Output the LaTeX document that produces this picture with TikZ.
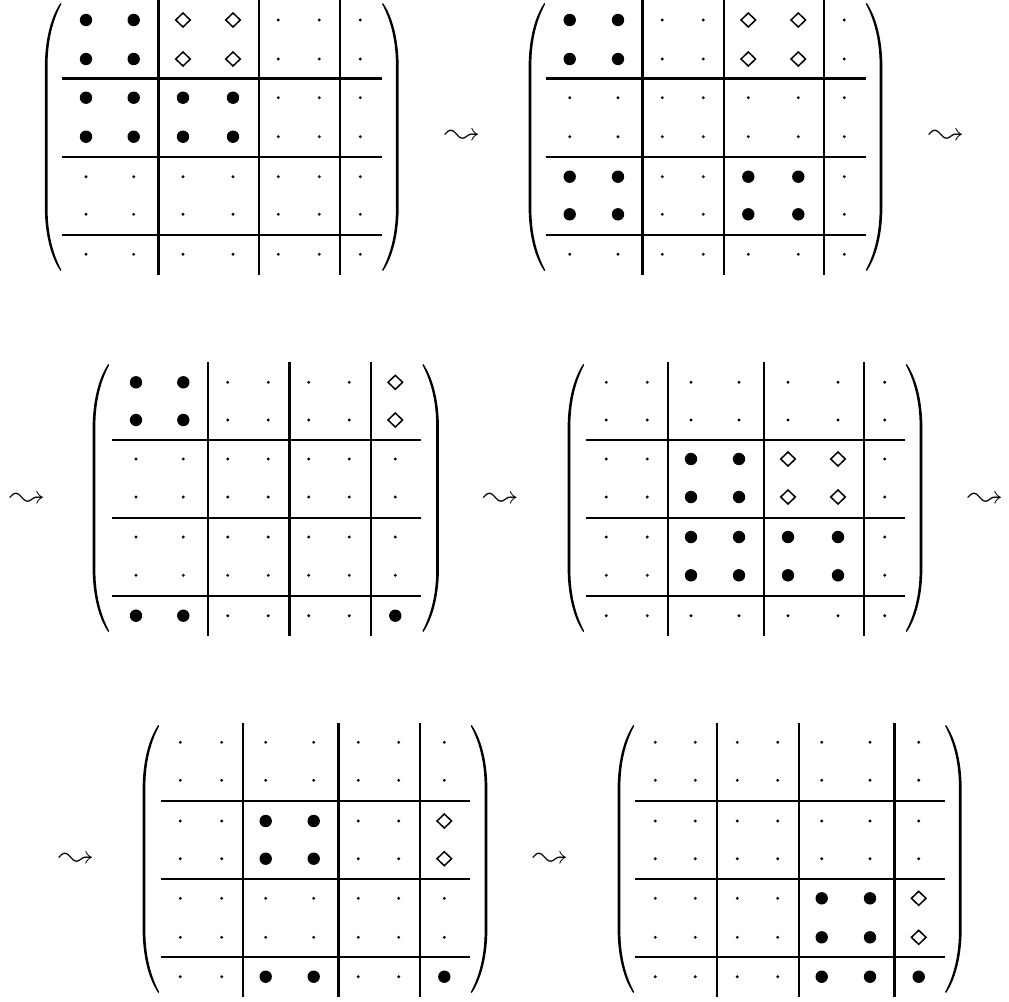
\documentclass[tikz,border=0pt]{standalone}
\usepackage{latexsym}
\usepackage{graphicx}
\tikzset{
  thinrule/.style={line width=1.7pt},
  thickrule/.style={line width=2.7pt},
  diam/.style={line width=1.5pt, line join=miter},
  squig/.style={inner sep=0pt}
}
\newcommand\setcols[7]{\def\cA{#1}\def\cB{#2}\def\cC{#3}\def\cD{#4}\def\cE{#5}\def\cF{#6}\def\cG{#7}}
\newcommand\ent[3]{%
  \if#3b\fill (#1,#2) circle (6.2pt);\fi
  \if#3d\draw[diam] (#1,#2-7.0) -- (#1+7.3,#2) -- (#1,#2+7.0) -- (#1-7.3,#2) -- cycle;\fi
  \if#3o\fill (#1,#2) circle (1.6pt);\fi}
\newcommand\mrow[8]{\ent{\cA}{#1}{#2}\ent{\cB}{#1}{#3}\ent{\cC}{#1}{#4}\ent{\cD}{#1}{#5}\ent{\cE}{#1}{#6}\ent{\cF}{#1}{#7}\ent{\cG}{#1}{#8}}
% paren: #1 tip x, #2 centre y, #3 direction (1 left, -1 right)
\newcommand\bigparen[3]{%
  \fill (#1,#2-134) .. controls (#1-#3*9,#2-121) and (#1-#3*14.8,#2-100) .. (#1-#3*15.6,#2-75)
    -- (#1-#3*15.6,#2+75) .. controls (#1-#3*14.8,#2+100) and (#1-#3*9,#2+121) .. (#1,#2+134)
    -- (#1+#3*0.9,#2+133) .. controls (#1-#3*6.6,#2+119) and (#1-#3*12.4,#2+100) .. (#1-#3*12.9,#2+75)
    -- (#1-#3*12.9,#2-75) .. controls (#1-#3*12.4,#2-100) and (#1-#3*6.6,#2-119) .. (#1+#3*0.9,#2-133) -- cycle;}
\newcommand\squiggle{\resizebox{35pt}{!}{$\leadsto$}}
\begin{document}
\begin{tikzpicture}[x=1pt,y=-1pt]
\useasboundingbox (0,0) rectangle (1009,1001);

% ===== Matrix 1 =====
\setcols{86}{133.7}{183}{233}{278.3}{319.3}{360.3}
\mrow{20}bbddooo
\mrow{59}bbddooo
\mrow{97.7}bbbbooo
\mrow{136.7}bbbbooo
\mrow{176.7}ooooooo
\mrow{214.3}ooooooo
\mrow{254.3}ooooooo
\draw[thickrule] (158.3,-1) -- (158.3,275);
\draw[thinrule] (259,-1) -- (259,275);
\draw[thinrule] (340,-1) -- (340,275);
\draw[thickrule] (62,78.3) -- (381.7,78.3);
\draw[thinrule] (62,156.7) -- (381.7,156.7);
\draw[thinrule] (62,235) -- (381.7,235);
\bigparen{60.5}{137}{1}
\bigparen{383}{137}{-1}

\node[squig] (a1) at (462.5,136.7) {\squiggle};

% ===== Matrix 2 =====
\setcols{569.7}{618}{662.3}{703.3}{748.3}{798.3}{844.3}
\mrow{20}bbooddo
\mrow{59}bbooddo
\mrow{97.7}ooooooo
\mrow{136.7}ooooooo
\mrow{176.7}bboobbo
\mrow{214.3}bboobbo
\mrow{254.3}ooooooo
\draw[thickrule] (642.3,-1) -- (642.3,275);
\draw[thinrule] (723.7,-1) -- (723.7,275);
\draw[thinrule] (823.7,-1) -- (823.7,275);
\draw[thickrule] (545.7,78.3) -- (866,78.3);
\draw[thinrule] (545.7,156.7) -- (866,156.7);
\draw[thinrule] (545.7,235) -- (866,235);
\bigparen{544.3}{137}{1}
\bigparen{866.7}{137}{-1}

\node[squig] (a2) at (946.5,136.7) {\squiggle};

% ===== Matrix 3 =====
\node[squig] (a3) at (27.5,500) {\squiggle};
\setcols{136}{183.3}{227.7}{268.3}{308.7}{349.3}{395.3}
\mrow{382.3}bbooood
\mrow{420}bbooood
\mrow{459}ooooooo
\mrow{497}ooooooo
\mrow{537}ooooooo
\mrow{575.3}ooooooo
\mrow{615.7}bboooob
\draw[thinrule] (208,362.3) -- (208,635.7);
\draw[thickrule] (289.3,362.3) -- (289.3,635.7);
\draw[thinrule] (371,362.3) -- (371,635.7);
\draw[thinrule] (112,439.7) -- (421,439.7);
\draw[thinrule] (112,517.7) -- (421,517.7);
\draw[thinrule] (112,596) -- (421,596);
\bigparen{108.3}{498}{1}
\bigparen{423.3}{498}{-1}

\node[squig] (a4) at (501,500) {\squiggle};

% ===== Matrix 4 =====
\setcols{606.3}{647.3}{691}{739}{788}{838}{884.7}
\mrow{382.3}ooooooo
\mrow{420}ooooooo
\mrow{459}oobbddo
\mrow{497}oobbddo
\mrow{537}oobbbbo
\mrow{575.3}oobbbbo
\mrow{615.7}ooooooo
\draw[thinrule] (667.7,362.3) -- (667.7,635.7);
\draw[thinrule] (764,362.3) -- (764,635.7);
\draw[thinrule] (863.7,362.3) -- (863.7,635.7);
\draw[thinrule] (586,439.7) -- (905,439.7);
\draw[thinrule] (586,517.7) -- (905,517.7);
\draw[thinrule] (586,596) -- (905,596);
\bigparen{583.3}{498}{1}
\bigparen{906.7}{498}{-1}

\node[squig] (a5) at (985.5,500) {\squiggle};

% ===== Matrix 5 =====
\node[squig] (a6) at (76.5,860) {\squiggle};
\setcols{180.3}{221.7}{265.7}{313.7}{358.3}{398.7}{444.3}
\mrow{742.3}ooooooo
\mrow{780.3}ooooooo
\mrow{821}oobbood
\mrow{858.7}oobbood
\mrow{898.3}ooooooo
\mrow{937.3}ooooooo
\mrow{976.7}oobboob
\draw[thinrule] (242.7,723) -- (242.7,997);
\draw[thickrule] (338.3,723) -- (338.3,997);
\draw[thinrule] (419.7,723) -- (419.7,997);
\draw[thinrule] (161,801) -- (470,801);
\draw[thinrule] (161,879) -- (470,879);
\draw[thinrule] (161,957) -- (470,957);
\bigparen{158.3}{859}{1}
\bigparen{471.7}{859}{-1}

\node[squig] (a7) at (550.5,860) {\squiggle};

% ===== Matrix 6 =====
\setcols{655.3}{695.3}{737.3}{777.7}{821.7}{870}{918.7}
\mrow{742.3}ooooooo
\mrow{780.3}ooooooo
\mrow{821}ooooooo
\mrow{858.7}ooooooo
\mrow{898.3}oooobbd
\mrow{937.3}oooobbd
\mrow{976.7}oooobbb
\draw[thinrule] (717,723) -- (717,997);
\draw[thinrule] (798.7,723) -- (798.7,997);
\draw[thickrule] (894.3,723) -- (894.3,997);
\draw[thinrule] (635,801) -- (945,801);
\draw[thinrule] (635,879) -- (945,879);
\draw[thinrule] (635,957) -- (945,957);
\bigparen{633.3}{859}{1}
\bigparen{946}{859}{-1}
\end{tikzpicture}
\end{document}
